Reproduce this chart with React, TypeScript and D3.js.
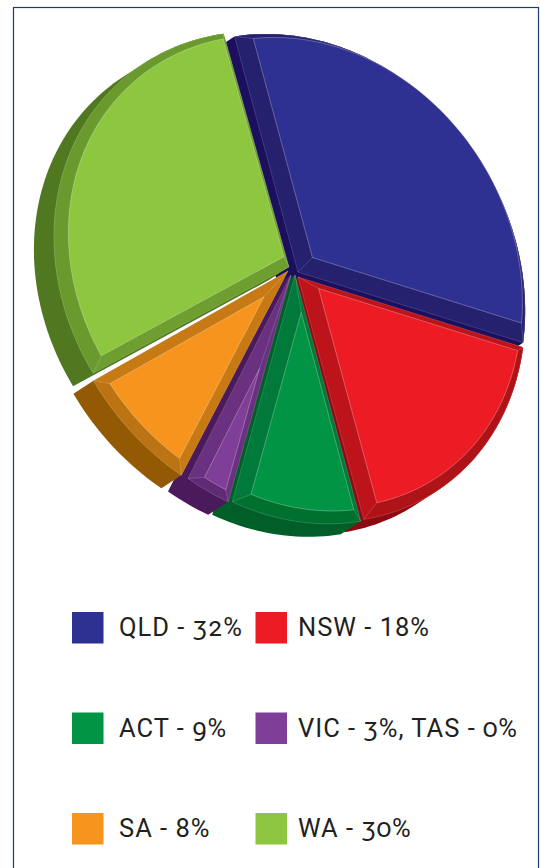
import React from "react";
import * as d3 from "d3";

const labels = ["QLD - 32%", "NSW - 18%", "ACT - 9%", "VIC - 3%, TAS - 0%", "SA - 8%", "WA - 30%"];
const shares = [32, 18, 9, 3, 8, 30];
const faceColors = ["#2E3192", "#ED1C24", "#009444", "#7F3F98", "#F7941D", "#8DC63F"];
const bevelColors = ["#25216F", "#BD141C", "#007A3A", "#693180", "#C77A14", "#6F9E30"];
const arcBevelColors = ["#25216F", "#AE1318", "#00702F", "#5F2B75", "#BB7313", "#6A9A2E"];
const depthColors = ["#1B0F5E", "#8F0A10", "#005E29", "#4A1A5D", "#945903", "#4F7820"];
const offsetsX = [1, 1, -2, -6, -9, -8];
const offsetsY = [-2, 3, 1, 1, -3, -7];
const scalesX = [1, 1, 1, 1, 1.035, 1.04];
const scalesY = [0.99, 0.985, 1, 1, 1.004, 0.98];
const rotationsDeg = [0, 0, 0, 0, 0, 0.2];
const bevels = [10, 10.5, 10.5, 9.5, 10, 9];
const shiftsX = [7, 6.3, 6, 3.9, 2.4, 5.5];
const shiftsY = [-6.5, -3.8, -1.5, 1.6, -1.7, -5];
const paintOrder = [0, 1, 2, 3, 4, 5];

const W = 541, H = 868;
const cx = 297, cy = 274;
const ax = 224, ay = 71, bx = -34, by = 234, k = 0.00007;
const depthX = -20, depthY = 13;

type P = [number, number];
const pie = d3.pie<number>().sort(null).value((d) => d)
  .startAngle((-115.2 * Math.PI) / 180).endAngle((244.8 * Math.PI) / 180);
const arcs = pie(shares);
const line = d3.line();
const closed = (pts: P[]) => line(pts) + "Z";

function project(t: number, rho: number, i: number): P {
  const tt = t + (rotationsDeg[i] * Math.PI) / 180;
  const X = rho * scalesX[i] * (ax * Math.cos(tt) + bx * Math.sin(tt));
  const Y = rho * scalesY[i] * (ay * Math.cos(tt) + by * Math.sin(tt));
  const w = 1 / (1 - k * Y);
  return [cx + offsetsX[i] + X * w, cy + offsetsY[i] + Y * w];
}

function arcPts(a0: number, a1: number, rho: number, i: number): P[] {
  const n = Math.max(4, Math.ceil((a1 - a0) * 40));
  return d3.range(n + 1).map((j) => project(a0 + ((a1 - a0) * j) / n, rho, i));
}

function Slice({ i }: { i: number }) {
  const { startAngle: a0, endAngle: a1 } = arcs[i];
  const apex = project(0, 0, i);
  const outerArc = arcPts(a0, a1, 1, i);
  const outer: P[] = [apex, ...outerArc];
  const hull = d3.polygonHull([...outer, ...outer.map(([x, y]): P => [x + depthX, y + depthY])]) as P[];
  const bevelD = bevels[i] / 235;
  const shiftX = shiftsX[i], shiftY = shiftsY[i];
  const rho = 1 - bevelD;
  const da = Math.asin(bevelD / rho);
  const mid = (a0 + a1) / 2;
  const half = (a1 - a0) / 2;
  const innerApexRaw = project(mid, bevelD / Math.sin(half), i);
  const innerArcRaw = arcPts(a0 + da, a1 - da, rho, i);
  const innerArc = innerArcRaw.map(([x, y]): P => [x + shiftX, y + shiftY]);
  const innerApex: P = [innerApexRaw[0] + shiftX, innerApexRaw[1] + shiftY];
  const inner: P[] = [innerApex, ...innerArc];
  const band: P[] = [...outerArc, ...innerArc.slice().reverse()];
  const miters: [P, P][] = [
    [apex, innerApex],
    [outerArc[0], innerArc[0]],
    [outerArc[outerArc.length - 1], innerArc[innerArc.length - 1]],
  ];
  return (
    <g>
      <path d={closed(hull)} fill={depthColors[i]} />
      <path d={closed(outer)} fill={bevelColors[i]} />
      <path d={closed(band)} fill={arcBevelColors[i]} />
      <path d={closed(outer)} fill="none" stroke="#fff" strokeOpacity={0.22} strokeWidth={0.7} />
      {miters.map(([p, q], m) => (
        <line key={m} x1={p[0]} y1={p[1]} x2={q[0]} y2={q[1]} stroke="#fff" strokeOpacity={0.22} strokeWidth={0.7} />
      ))}
      <path d={closed(inner)} fill={faceColors[i]} stroke="#fff" strokeOpacity={0.35} strokeWidth={0.8} />
    </g>
  );
}

const legendX = d3.scalePoint<number>().domain([0, 1]).range([72, 255.5]);
const legendY = d3.scalePoint<number>().domain([0, 1, 2]).range([612, 813]);
const legendTextX = [119, 298];
const legendBaseDy = 24;

export default function App() {
  return (
    <svg width={W} height={H} viewBox={`0 0 ${W} ${H}`} style={{ position: "absolute", left: 0, top: 0, background: "#fff" }}>
      <rect x={13.5} y={7.5} width={525} height={H + 20} fill="#fff" stroke="#1C3F6E" strokeWidth={1.2} />
      {paintOrder.map((i) => <Slice key={i} i={i} />)}
      {labels.map((label, i) => {
        const col = i % 2, row = Math.floor(i / 2);
        return (
          <g key={label}>
            <rect x={legendX(col)} y={legendY(row)} width={31.5} height={31.5} fill={faceColors[i]} />
            <text x={legendTextX[col]} y={(legendY(row) as number) + legendBaseDy}
              fontFamily="Roboto" fontSize={25.5} letterSpacing={1} fill="#231F20"
              style={{ fontVariantNumeric: "oldstyle-nums" }}>
              {label.split(/(1)/).map((part, j) =>
                part === "1"
                  ? <tspan key={j} style={{ fontVariantNumeric: "lining-nums" }}>{part}</tspan>
                  : part)}
            </text>
          </g>
        );
      })}
    </svg>
  );
}
